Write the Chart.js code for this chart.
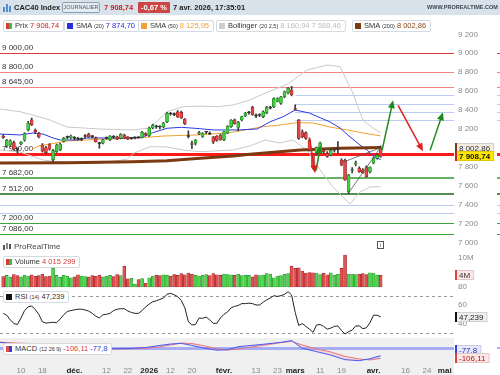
<!DOCTYPE html>
<html lang="fr">
<head>
<meta charset="utf-8">
<title>CAC40 Index</title>
<script src="https://cdn.jsdelivr.net/npm/chart.js@4.4.1/dist/chart.umd.min.js"></script>
<style>
  html, body { margin: 0; padding: 0; }
  body { width: 500px; height: 375px; overflow: hidden; position: relative; background: #fff;
         font-family: "Liberation Sans", Arial, sans-serif; color: #222; }
  canvas { position: absolute; left: 0; }
  #hdr { position: absolute; left: 0; top: 0; width: 500px; height: 15px; background: #d8e2ea; }
  .abs { position: absolute; white-space: nowrap; line-height: 1; z-index: 3; }
  .chip { position: absolute; z-index: 3; height: 12px; box-sizing: border-box; border: 1px solid #d3dae2;
          border-radius: 2px; background: #fff; font-size: 7.5px; line-height: 10px; white-space: nowrap;
          padding: 0 4px 0 11px; color: #333; }
  .chip .ic { position: absolute; left: 2px; top: 2px; width: 6px; height: 6px; }
  .chip small { font-size: 5.5px; }
</style>
</head>
<body>
<div id="hdr"></div>
<div class="abs" style="left:3px;top:3px;width:8px;height:9px">
  <span style="position:absolute;left:0;top:4px;width:1.5px;height:5px;background:#4f8fd6"></span>
  <span style="position:absolute;left:3px;top:1px;width:1.5px;height:8px;background:#4f8fd6"></span>
  <span style="position:absolute;left:6px;top:3px;width:1.5px;height:6px;background:#4f8fd6"></span>
</div>
<div class="abs" style="left:14px;top:4px;font-size:7.5px;font-weight:bold">CAC40 Index</div>
<div class="abs" style="left:62px;top:2px;width:38px;height:11px;box-sizing:border-box;border:1px solid #8d9fb1;border-radius:2px;background:#e4ecf2;font-size:5.5px;line-height:9px;text-align:center;color:#4b5d70">JOURNALIER</div>
<div class="abs" style="left:104px;top:4px;font-size:7.5px;font-weight:bold;color:#c81e1e" id="hPrice"></div>
<div class="abs" style="left:138px;top:2px;width:32px;height:11px;background:#cc4646;color:#fff;font-size:7.5px;font-weight:bold;line-height:11px;text-align:center;border-radius:1px">-0,67 %</div>
<div class="abs" style="left:173px;top:4px;font-size:7.5px;font-weight:bold">7 avr. 2026, 17:35:01</div>
<div class="abs" style="left:427px;top:5px;font-size:5.5px;font-weight:bold;color:#3d4650">WWW.PROREALTIME.COM</div>

<div class="chip" style="left:3px;top:20px"><span class="ic" style="background:linear-gradient(90deg,#d83a3a 50%,#3cbf3c 50%)"></span>Prix <span style="color:#d02020" id="vPrix"></span></div>
<div class="chip" style="left:64px;top:20px"><span class="ic" style="background:#2430e0"></span>SMA <small>(20)</small> <span style="color:#2a2ae0" id="vSma20"></span></div>
<div class="chip" style="left:138px;top:20px"><span class="ic" style="background:#f5a030"></span>SMA <small>(50)</small> <span style="color:#f0a030" id="vSma50"></span></div>
<div class="chip" style="left:216px;top:20px"><span class="ic" style="background:#cfcfcf"></span>Bollinger <small>(20 2,5)</small> <span style="color:#bdbdbd" id="vBoll"></span></div>
<div class="chip" style="left:352px;top:20px"><span class="ic" style="background:#7b3a12"></span>SMA <small>(200)</small> <span style="color:#8b4513" id="vSma200"></span></div>

<canvas id="cPrice" width="500" height="237" style="top:15px"></canvas>
<canvas id="cVol" width="500" height="36" style="top:252px"></canvas>
<canvas id="cRsi" width="500" height="57" style="top:281px"></canvas>
<canvas id="cMacd" width="500" height="37" style="top:338px"></canvas>

<div class="abs" style="left:3px;top:243px;width:8px;height:8px">
  <span style="position:absolute;left:0;top:2px;width:2px;height:5px;background:#555"></span>
  <span style="position:absolute;left:3px;top:0;width:2px;height:6px;background:#888"></span>
  <span style="position:absolute;left:6px;top:1px;width:2px;height:5px;background:#555"></span>
</div>
<div class="abs" style="left:14px;top:243px;font-size:8px;color:#444">ProRealTime</div>
<div class="abs" style="left:377px;top:241px;width:7px;height:8px;box-sizing:border-box;border:1px solid #555;font-size:6px;line-height:6px;text-align:center;color:#444">i</div>

<div class="chip" style="left:3px;top:256px"><span class="ic" style="background:linear-gradient(90deg,#d83a3a 50%,#3cbf3c 50%)"></span>Volume <span style="color:#d83a3a" id="vVol"></span></div>
<div class="chip" style="left:3px;top:291px"><span class="ic" style="background:#111"></span>RSI <small>(14)</small> <span id="vRsi"></span></div>
<div class="chip" style="left:3px;top:343px"><span class="ic" style="background:linear-gradient(90deg,#e05050 50%,#3040e0 50%)"></span>MACD <small>(12 26 9)</small> <span style="color:#e04040" id="vMacd"></span> <span style="color:#3040e0" id="vSig"></span></div>

<script>
// ---- data ----
// trading days 3 nov. 2025 .. 7 avr. 2026, x = bar index
const openP = [8120,8020,8030,8055,7990,8040,8080,8190,8295,8185,
  8155,8030,8000,8035,7875,7960,7980,8070,8110,8105,
  8105,8095,8090,8120,8145,8120,8105,8050,8050,8100,
  8085,8115,8115,8100,8135,8115,8100,8105,8110,8110,
  8150,8130,8210,8225,8220,8220,8275,8360,8355,8380,
  8375,8305,8125,8045,8050,8150,8120,8165,8150,8115,
  8125,8136,8085,8155,8225,8295,8215,8295,8340,8370,
  8430,8340,8345,8330,8370,8420,8435,8490,8470,8540,
  8580,8612,8415,8295,8170,8160,8083,7924,7945,7975,
  7965,7940,7925,7975,7985,7870,7870,7535,7760,7830,
  7785,7765,7800,7745,7840,7890,7995];
const highP = [8140,8090,8085,8070,8000,8065,8160,8280,8315,8200,
  8165,8045,8015,8045,7985,8040,8050,8110,8125,8135,
  8120,8110,8105,8140,8155,8130,8115,8060,8090,8115,
  8130,8130,8125,8150,8145,8120,8110,8115,8120,8175,
  8160,8220,8250,8240,8235,8270,8375,8375,8370,8395,
  8390,8310,8180,8070,8090,8175,8160,8175,8170,8120,
  8130,8145,8175,8235,8300,8305,8280,8335,8375,8385,
  8440,8360,8360,8390,8440,8440,8530,8530,8545,8600,
  8640,8650,8455,8300,8190,8170,8095,7935,8010,8060,
  7990,7960,7990,7990,8065,7885,7880,7720,7790,7860,
  7800,7780,7810,7800,7900,7930,8020];
const lowP = [8100,8005,8010,7975,7940,8030,8070,8180,8235,8150,
  8105,7955,7935,7975,7850,7950,7970,8060,8095,8095,
  8085,8080,8075,8105,8110,8105,8060,7995,8040,8090,
  8075,8100,8085,8095,8100,8085,8090,8095,8100,8105,
  8125,8120,8200,8205,8200,8210,8265,8345,8340,8320,
  8310,8245,8105,7990,8030,8140,8110,8150,8140,8045,
  8070,8080,8075,8150,8215,8250,8180,8285,8330,8355,
  8345,8320,8330,8320,8360,8410,8425,8485,8460,8530,
  8570,8550,8400,8090,8105,8090,7965,7780,7930,7960,
  7940,7900,7915,7955,7940,7810,7655,7515,7735,7810,
  7740,7730,7690,7735,7830,7880,7900];
const closeP = [8110,8080,8075,7985,7985,8060,8150,8260,8245,8170,
  8115,7965,7950,7985,7970,8030,8040,8100,8112,8125,
  8100,8092,8095,8125,8115,8118,8065,8045,8085,8102,
  8125,8112,8092,8145,8105,8092,8102,8108,8105,8165,
  8140,8210,8240,8222,8218,8262,8365,8358,8352,8326,
  8316,8252,8120,8035,8082,8160,8150,8168,8145,8062,
  8077,8083,8170,8225,8294,8255,8270,8330,8365,8375,
  8350,8335,8348,8382,8430,8425,8520,8522,8540,8593,
  8630,8559,8405,8100,8117,8100,7977,7800,8005,8050,
  7958,7910,7975,7980,7990,7818,7660,7713,7766,7840,
  7748,7738,7695,7797,7890,7922,7908.74];
// volume in millions
const volumeM = [3.6,4.0,3.4,4.3,3.9,3.5,4.1,3.8,4.2,3.7,
  3.9,4.4,3.6,3.8,6.5,4.0,3.3,4.1,3.7,3.2,
  3.5,4.2,3.8,3.6,3.4,3.9,3.7,4.1,3.5,3.8,
  4.0,3.6,4.3,3.9,7.2,2.8,3.0,1.0,2.6,2.9,
  1.3,3.2,3.8,4.0,3.9,4.2,4.1,3.7,4.3,4.0,
  4.6,4.2,4.8,4.4,4.0,3.8,4.1,4.3,3.9,4.6,
  4.2,4.0,4.5,4.3,4.2,4.0,4.4,3.9,4.1,4.0,
  3.5,4.2,3.9,4.1,4.6,4.5,3.2,3.8,3.9,4.4,
  4.6,7.2,6.4,6.6,5.5,4.8,5.0,4.9,4.8,4.3,
  4.7,4.2,4.9,4.1,4.4,6.4,11.0,4.4,4.5,4.3,
  4.4,4.6,4.3,4.9,4.8,4.1,4.015299];
const rsi14 = [51,49,44,40,39,46,54,58,59,55,
  50,42,40.5,41,41.4,41,45,49.5,53,54,
  54.8,55.5,55.5,54.6,53.5,51,48,46,49.5,50,
  51,54,55.5,56,56,53.5,52,51,51,54,
  58,61,63.5,64.5,66,67.5,71.5,72.6,71,69,
  65,57,42,38.5,39,46,45.7,47,44,40.3,
  40.3,46,50,52.5,57,58.5,59.5,61.5,61.5,62,
  61.5,60,60,63,65.5,67.5,70,69.2,70,71.5,
  74.3,70.7,52,38,40,37,34,30.6,38.5,39,
  37,34,35.2,37,37.5,32.5,28.8,31.3,33,37.5,
  37.5,34.5,35.5,41,49,49,47.239];

// indicator lines, read at sample bars
const sma20Idx = [-1,4.7,8.4,11.2,14,16,20.7,23.5,36.5,39,42,46,50,54.4,59,66,71.3,75,78.6,82,86,91.8,94.6,97.4,100.2,102.2,104,106];
const sma20Val = [8146,8136,8157,8146,8104,8083,8083,8104,8104,8112,8160,8207,8217,8205,8189,8189,8199,8276,8329,8400,8368,8273,8210,8115,8030,7977,7910,7874.70];
const sma50Idx = [8,10,18,27,36.5,45,54.4,63.7,73,77.8,82.5,87,91.8,96.6,101,106];
const sma50Val = [7985,8020,8072,8090,8101,8125,8136,8160,8224,8241,8266,8263,8220,8189,8157,8125.95];
const sma200Idx = [-1,18,36.5,46,55.3,64.6,69.3,83.4,94.6,106];
const sma200Val = [7840,7843,7853,7864,7889,7914,7932,7977,7995,8002.86];
const bollUpIdx = [-1,4.7,8.4,13.1,17.9,27.2,36.5,41.2,46,50.5,55.3,60,64.5,69.3,73,79.7,85.3,91,94.6,98.2,101,103.8,106];
const bollUpVal = [8411,8382,8347,8294,8220,8199,8189,8210,8382,8435,8442,8435,8453,8506,8570,8670,8823,8876,8858,8580,8294,8210,8160.94];
const bollLowIdx = [-1,4.7,11.2,17.9,27.2,34.8,36.5,41.2,46,50.5,55.3,64.5,69.3,73.5,77.7,81.4,85.3,89,92.6,95.4,97.4,100.2,103,106];
const bollLowVal = [7977,7956,7871,7843,7837,7880,7940,8012,8009,7977,7959,7977,8019,8083,8051,8083,7977,7766,7586,7480,7405,7533,7586,7588.46];
const macdIdx = [-1,4,8,12,16,20,25,30,35,40,44,47,50,53,56,60,63,66,69,73,78,81,84,88,92,96,100,103,106];
const macdLine = [62,42,50,25,-5,-10,-12,-6,-2,8,30,45,52,30,5,-20,-15,17,28,42,63,82,0,-35,-72,-120,-130,-110,-77.8];
const signalLine = [65,55,50,38,18,2,-8,-8,-5,0,15,35,55,50,30,-5,-18,-10,10,30,60,72,35,-7,-38,-85,-112,-123,-106.11];

// drawn levels and annotations
const resistanceLevels = [9000, 8800, 8645];
const pivotLevel = 7930;
const supportLevels = [7682, 7512, 7200, 7086];
const targetLevels = [8555, 8460, 8379, 8291];
const targetFrom = 82;
const lowLevels = [7392, 7315];
const arrowsUp = [[87.9, 7762, 89.1, 8026], [106.4, 7973, 109.5, 8503], [119.9, 7973, 123.5, 8376]];
const arrowsDown = [[86, 8111, 87.6, 7730], [110.9, 8450, 117.9, 7963]];
const wedgeLines = [[94.6, 7836, 105.6, 7995], [96.9, 7518, 105.6, 7985]];

// axes
const xTickIdx = [5, 11, 20, 29, 35, 41, 47, 53, 62, 71, 77, 82, 89, 95, 104, 113, 119, 124];
const xTickLabels = ['10', '18', 'déc.', '12', '22', '2026', '12', '20', 'févr.', '13', '23', 'mars', '11', '19', 'avr.', '16', '24', 'mai'];
const priceTicks = [7000, 7200, 7400, 7600, 7800, 8000, 8200, 8400, 8600, 8800, 9000, 9200];
const volumeTicks = [10];
const rsiTicks = [40, 60, 80];
const rsiBands = [70, 30];

// ---- drawing ----
const FONT = '"Liberation Sans", Arial, sans-serif';
const X_MIN = -0.9, X_MAX = 126.6;
const UP = '#3fcf3f', UP_EDGE = '#1f7a1f', DOWN = '#e24747', DOWN_EDGE = '#8f1f1f', DOJI = '#333';
const RES_COLORS = ['#e03a3a', '#f08484', '#f08484'];
const SUP_COLORS = ['#2f9a2f', '#1b6b1b', '#3aa63a', '#3aa63a'];
const SUP_WIDTHS = [1.5, 1.5, 1, 1];

Chart.defaults.font.family = FONT;
Chart.defaults.color = '#8a8a8a';

function fr(v, d) {
  const s = Math.abs(v).toFixed(d).split('.');
  return (v < 0 ? '-' : '') + s[0].replace(/\B(?=(\d{3})+(?!\d))/g, ' ') + (d ? ',' + s[1] : '');
}
const xy = (idx, vals) => idx.map((v, k) => ({ x: v, y: vals[k] }));
const dir = i => { const d = closeP[i] - openP[i]; return Math.abs(d) < 6 ? 0 : (d > 0 ? 1 : -1); };
const bars = closeP.map((c, i) => i);

document.getElementById('hPrice').textContent = fr(closeP[closeP.length - 1], 2);
document.getElementById('vPrix').textContent = fr(closeP[closeP.length - 1], 2);
document.getElementById('vSma20').textContent = fr(sma20Val[sma20Val.length - 1], 2);
document.getElementById('vSma50').textContent = fr(sma50Val[sma50Val.length - 1], 2);
document.getElementById('vBoll').textContent = fr(bollUpVal[bollUpVal.length - 1], 2) + ' ' + fr(bollLowVal[bollLowVal.length - 1], 2);
document.getElementById('vSma200').textContent = fr(sma200Val[sma200Val.length - 1], 2);
document.getElementById('vVol').textContent = fr(Math.round(volumeM[volumeM.length - 1] * 1e6), 0);
document.getElementById('vRsi').textContent = fr(rsi14[rsi14.length - 1], 3);
document.getElementById('vMacd').textContent = fr(signalLine[signalLine.length - 1], 2);
document.getElementById('vSig').textContent = fr(macdLine[macdLine.length - 1], 1);

function hiddenX() {
  return { type: 'linear', min: X_MIN, max: X_MAX, display: false, offset: false };
}
function rightAxis(min, max, ticks, fmt, show) {
  return {
    position: 'right', min, max,
    grid: { display: false, drawTicks: false }, border: { display: false },
    afterBuildTicks: s => { s.ticks = ticks.map(v => ({ value: v })); },
    afterFit: s => { s.width = 46; s.paddingTop = 0; s.paddingBottom = 0; },
    ticks: { display: show !== false, padding: 4, color: '#8a8a8a', font: { family: FONT, size: 8 }, callback: fmt }
  };
}
const baseOpts = scales => ({
  responsive: false, maintainAspectRatio: false, animation: false, devicePixelRatio: 1, events: [],
  layout: { padding: 0 },
  plugins: { legend: { display: false }, tooltip: { enabled: false } },
  scales
});

function valueBox(ctx, x, y, text, bg, bar, color, bold) {
  ctx.font = (bold ? 'bold ' : '') + '8px ' + FONT;
  const w = ctx.measureText(text).width + 8, h = 10;
  ctx.fillStyle = bg;
  ctx.fillRect(x, Math.round(y - h / 2), w, h);
  ctx.strokeStyle = 'rgba(0,0,0,0.12)';
  ctx.lineWidth = 1;
  ctx.strokeRect(x + 0.5, Math.round(y - h / 2) + 0.5, w - 1, h - 1);
  if (bar) { ctx.fillStyle = bar; ctx.fillRect(x, Math.round(y - h / 2), 2, h); }
  ctx.fillStyle = color;
  ctx.textBaseline = 'middle';
  ctx.textAlign = 'left';
  ctx.fillText(text, x + 4, Math.round(y) + 0.5);
}
function arrow(ctx, x1, y1, x2, y2, color) {
  const a = Math.atan2(y2 - y1, x2 - x1);
  ctx.strokeStyle = color; ctx.fillStyle = color; ctx.lineWidth = 1.5;
  ctx.beginPath(); ctx.moveTo(x1, y1);
  ctx.lineTo(x2 - 5 * Math.cos(a), y2 - 5 * Math.sin(a)); ctx.stroke();
  ctx.beginPath(); ctx.moveTo(x2, y2);
  ctx.lineTo(x2 - 8 * Math.cos(a) + 3.5 * Math.sin(a), y2 - 8 * Math.sin(a) - 3.5 * Math.cos(a));
  ctx.lineTo(x2 - 8 * Math.cos(a) - 3.5 * Math.sin(a), y2 - 8 * Math.sin(a) + 3.5 * Math.cos(a));
  ctx.closePath(); ctx.fill();
}

// price panel
const pricePlugin = {
  id: 'priceOverlay',
  beforeDatasetsDraw(chart) {
    const { ctx, chartArea: a, scales: { x, y } } = chart;
    ctx.save();
    const line = (v, color, w, from) => {
      const py = Math.round(y.getPixelForValue(v)) + (w % 2 === 1 ? 0.5 : 0);
      ctx.strokeStyle = color; ctx.lineWidth = w;
      ctx.beginPath();
      ctx.moveTo(from == null ? a.left : x.getPixelForValue(from), py);
      ctx.lineTo(a.right, py); ctx.stroke();
      ctx.fillStyle = color; ctx.fillRect(497, py - w / 2, 3, w);
      return py;
    };
    const label = (v, py) => {
      ctx.fillStyle = '#333'; ctx.font = '8px ' + FONT;
      ctx.textBaseline = 'bottom'; ctx.textAlign = 'left';
      ctx.fillText(fr(v, 2), 2, py - 1.5);
    };
    targetLevels.forEach(v => line(v, '#bccbf0', 1, targetFrom));
    lowLevels.forEach(v => line(v, '#bccbf0', 1));
    resistanceLevels.forEach((v, k) => label(v, line(v, RES_COLORS[k], 1)));
    supportLevels.forEach((v, k) => label(v, line(v, SUP_COLORS[k], SUP_WIDTHS[k])));
    label(pivotLevel, line(pivotLevel, '#ff1a1a', 3));
    ctx.restore();
  },
  afterDatasetsDraw(chart) {
    const { ctx, scales: { x, y } } = chart;
    ctx.save();
    ctx.strokeStyle = '#555'; ctx.lineWidth = 0.8;
    wedgeLines.forEach(([i1, p1, i2, p2]) => {
      ctx.beginPath();
      ctx.moveTo(x.getPixelForValue(i1), y.getPixelForValue(p1));
      ctx.lineTo(x.getPixelForValue(i2), y.getPixelForValue(p2));
      ctx.stroke();
    });
    arrowsUp.forEach(([i1, p1, i2, p2]) => arrow(ctx, x.getPixelForValue(i1), y.getPixelForValue(p1), x.getPixelForValue(i2), y.getPixelForValue(p2), '#1e8a1e'));
    arrowsDown.forEach(([i1, p1, i2, p2]) => arrow(ctx, x.getPixelForValue(i1), y.getPixelForValue(p1), x.getPixelForValue(i2), y.getPixelForValue(p2), '#e02020'));
    ctx.restore();
  },
  afterDraw(chart) {
    const { ctx, chartArea: a, scales: { y } } = chart;
    ctx.save();
    const s200 = sma200Val[sma200Val.length - 1];
    const last = closeP[closeP.length - 1];
    valueBox(ctx, a.right + 1, y.getPixelForValue(s200), fr(s200, 2), '#f3ebe3', '#7b3a12', '#333', false);
    valueBox(ctx, a.right + 1, y.getPixelForValue(last), fr(last, 2), '#ffe600', '#d02020', '#111', true);
    ctx.restore();
  }
};

new Chart(document.getElementById('cPrice'), {
  type: 'bar',
  data: {
    datasets: [
      { type: 'bar', data: bars.map(i => ({ x: i, y: [openP[i], closeP[i]] })), grouped: false, order: 0,
        barThickness: 3, minBarLength: 1, borderWidth: 0.6, borderSkipped: false,
        backgroundColor: c => ({ 1: UP, '-1': DOWN, 0: DOJI })[dir(c.dataIndex)],
        borderColor: c => ({ 1: UP_EDGE, '-1': DOWN_EDGE, 0: DOJI })[dir(c.dataIndex)] },
      { type: 'bar', data: bars.map(i => ({ x: i, y: [lowP[i], highP[i]] })), grouped: false, order: 1,
        barThickness: 1, backgroundColor: '#3a3a3a', borderWidth: 0 },
      { type: 'line', data: xy(sma200Idx, sma200Val), borderColor: '#7b3a12', borderWidth: 3, pointRadius: 0, order: 2 },
      { type: 'line', data: xy(sma20Idx, sma20Val), borderColor: '#2b3be0', borderWidth: 1, pointRadius: 0, order: 3 },
      { type: 'line', data: xy(sma50Idx, sma50Val), borderColor: '#f5a030', borderWidth: 1, pointRadius: 0, order: 4 },
      { type: 'line', data: xy(bollUpIdx, bollUpVal), borderColor: '#c9c9c9', borderWidth: 1, pointRadius: 0, order: 5 },
      { type: 'line', data: xy(bollLowIdx, bollLowVal), borderColor: '#c9c9c9', borderWidth: 1, pointRadius: 0, order: 5 }
    ]
  },
  options: baseOpts({
    x: hiddenX(),
    y: rightAxis(6898, 9405, priceTicks, v => fr(v, 0))
  }),
  plugins: [pricePlugin]
});

// volume panel
new Chart(document.getElementById('cVol'), {
  type: 'bar',
  data: {
    datasets: [{
      data: bars.map(i => ({ x: i, y: volumeM[i] })), grouped: false, barThickness: 3,
      borderWidth: 0.6, borderSkipped: false,
      backgroundColor: c => closeP[c.dataIndex] >= openP[c.dataIndex] ? '#4fd64f' : '#e25252',
      borderColor: c => closeP[c.dataIndex] >= openP[c.dataIndex] ? '#2a8a2a' : '#9a2424'
    }]
  },
  options: baseOpts({
    x: hiddenX(),
    y: rightAxis(-0.34, 12.07, volumeTicks, v => v + 'M')
  }),
  plugins: [{
    id: 'volOverlay',
    afterDraw(chart) {
      const { ctx, chartArea: a, scales: { y } } = chart;
      const v = volumeM[volumeM.length - 1];
      ctx.save();
      valueBox(ctx, a.right + 1, y.getPixelForValue(v), Math.round(v) + 'M', '#fde6e6', '#e04040', '#333', false);
      ctx.restore();
    }
  }]
});

// RSI panel
new Chart(document.getElementById('cRsi'), {
  type: 'line',
  data: { datasets: [{ data: bars.map(i => ({ x: i, y: rsi14[i] })), borderColor: '#222', borderWidth: 1, pointRadius: 0 }] },
  options: baseOpts({
    x: hiddenX(),
    y: rightAxis(24.5, 85.8, rsiTicks, v => String(v))
  }),
  plugins: [{
    id: 'rsiOverlay',
    beforeDatasetsDraw(chart) {
      const { ctx, chartArea: a, scales: { y } } = chart;
      ctx.save();
      ctx.strokeStyle = '#9a9a9a'; ctx.lineWidth = 1; ctx.setLineDash([3, 3]);
      rsiBands.forEach(v => {
        const py = Math.round(y.getPixelForValue(v)) + 0.5;
        ctx.beginPath(); ctx.moveTo(a.left, py); ctx.lineTo(a.right, py); ctx.stroke();
      });
      ctx.restore();
    },
    afterDraw(chart) {
      const { ctx, chartArea: a, scales: { y } } = chart;
      const v = rsi14[rsi14.length - 1];
      ctx.save();
      valueBox(ctx, a.right + 1, y.getPixelForValue(v), fr(v, 3), '#eeeeee', '#111', '#222', false);
      ctx.restore();
    }
  }]
});

// MACD panel with the date axis
const isMonth = k => isNaN(Number(xTickLabels[k])) || xTickLabels[k].length === 4;
new Chart(document.getElementById('cMacd'), {
  type: 'line',
  data: {
    datasets: [
      { data: xy(macdIdx, macdLine), borderColor: '#4a58f0', borderWidth: 1, pointRadius: 0,
        fill: { target: 1, above: 'rgba(110,120,240,0.25)', below: 'rgba(240,120,140,0.22)' } },
      { data: xy(macdIdx, signalLine), borderColor: '#f07a7a', borderWidth: 1, pointRadius: 0 }
    ]
  },
  options: baseOpts({
    x: {
      type: 'linear', min: X_MIN, max: X_MAX, offset: false,
      grid: { display: false, drawTicks: false }, border: { display: false },
      afterBuildTicks: s => { s.ticks = xTickIdx.map(v => ({ value: v })); },
      afterFit: s => { s.height = 10; s.paddingLeft = 0; s.paddingRight = 0; },
      ticks: {
        autoSkip: false, maxRotation: 0, minRotation: 0, padding: 1,
        callback: v => xTickLabels[xTickIdx.indexOf(v)],
        color: c => isMonth(c.index) ? '#222' : '#8a8a8a',
        font: c => ({ family: FONT, size: 8, weight: isMonth(c.index) ? 'bold' : 'normal' })
      }
    },
    y: rightAxis(-175.8, 108.4, [], v => String(v), false)
  }),
  plugins: [{
    id: 'macdOverlay',
    beforeDraw(chart) {
      const { ctx, chartArea: a } = chart;
      ctx.save();
      ctx.fillStyle = '#f0f0f0';
      ctx.fillRect(0, 0, a.right, chart.height);
      ctx.restore();
    },
    beforeDatasetsDraw(chart) {
      const { ctx, chartArea: a, scales: { y } } = chart;
      const py = Math.round(y.getPixelForValue(0));
      ctx.save();
      ctx.fillStyle = '#a6adf2';
      ctx.fillRect(a.left, py - 1, a.right - a.left, 3);
      ctx.fillRect(497, py - 1, 3, 2);
      ctx.restore();
    },
    afterDraw(chart) {
      const { ctx, chartArea: a, scales: { y } } = chart;
      const m = macdLine[macdLine.length - 1], s = signalLine[signalLine.length - 1];
      let ym = y.getPixelForValue(m), ys = y.getPixelForValue(s);
      if (ys - ym < 8) ym = ys - 8;
      ctx.save();
      valueBox(ctx, a.right + 1, ym, fr(m, 1), '#e6e8ff', '#3040e8', '#2a2ab0', false);
      valueBox(ctx, a.right + 1, ys, fr(s, 2), '#fde6e6', '#e04040', '#b02020', false);
      ctx.restore();
    }
  }]
});
</script>
</body>
</html>
